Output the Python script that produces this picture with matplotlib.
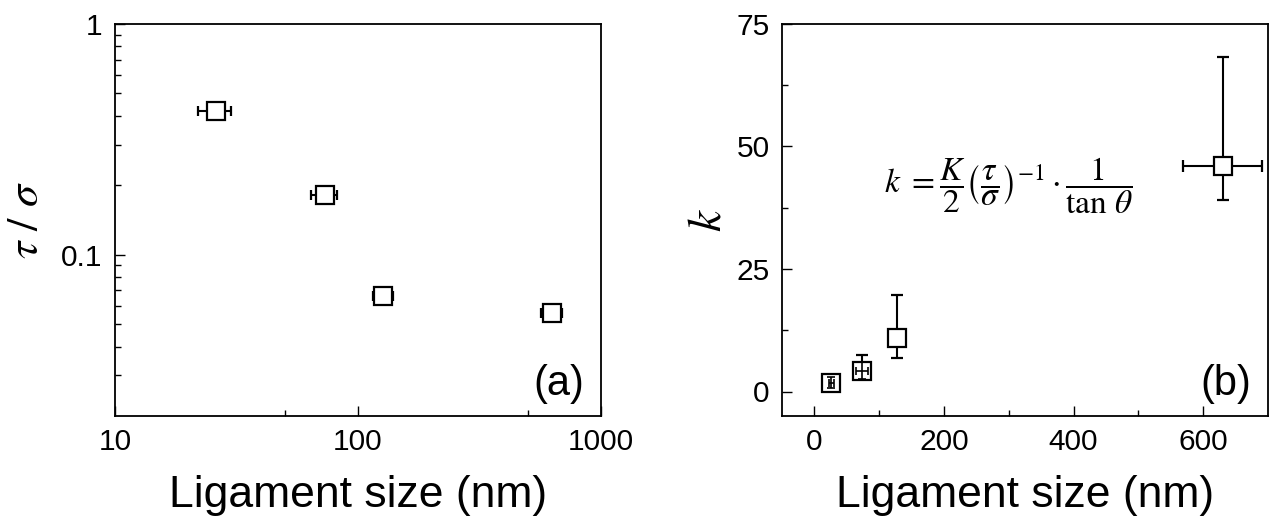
import numpy as np
import matplotlib.pyplot as plt
from matplotlib.ticker import FixedLocator, NullFormatter

plt.rcParams['font.family'] = ['Liberation Sans', 'DejaVu Sans']
plt.rcParams['mathtext.fontset'] = 'stix'

# data
size_nm = [26, 73, 127, 630]
size_err = [4, 9, 12, 61]
tau_sigma = [0.42, 0.182, 0.066, 0.056]
k_val = [1.7, 4.2, 11.0, 46.1]
k_err_lo = [1.0, 1.7, 4.2, 7.1]
k_err_hi = [1.2, 3.2, 8.6, 22.1]

fig = plt.figure(figsize=(12.69, 5.22), dpi=100)
ax1 = fig.add_axes([115 / 1269, 106 / 522, 486 / 1269, 392 / 522])
ax2 = fig.add_axes([782 / 1269, 106 / 522, 486 / 1269, 392 / 522])

box = dict(fmt='s', ms=13, mfc='white', mec='black', mew=1.6,
           ecolor='black', elinewidth=1.5, capthick=1.5, color='black')

# (a) tau/sigma vs size, log-log
ax1.errorbar(size_nm, tau_sigma, xerr=size_err, capsize=3.5, **box)
ax1.set_xscale('log')
ax1.set_yscale('log')
ax1.set_xlim(10, 1000)
ax1.set_ylim(0.02, 1)
ax1.xaxis.set_major_locator(FixedLocator([10, 100, 1000]))
ax1.xaxis.set_minor_locator(FixedLocator([50, 500]))
ax1.set_xticklabels(['10', '100', '1000'])
ax1.xaxis.set_minor_formatter(NullFormatter())
ax1.yaxis.set_major_locator(FixedLocator([0.1, 1]))
ax1.yaxis.set_minor_locator(FixedLocator(
    [0.03, 0.04, 0.05, 0.06, 0.07, 0.08, 0.09,
     0.2, 0.3, 0.4, 0.5, 0.6, 0.7, 0.8, 0.9]))
ax1.set_yticklabels(['0.1', '1'])
ax1.yaxis.set_minor_formatter(NullFormatter())
ax1.set_ylabel(r'$\tau\ /\ \sigma$', fontsize=32, labelpad=10)
ax1.text(0.965, 0.03, '(a)', transform=ax1.transAxes, fontsize=30,
         ha='right', va='bottom')

# (b) k vs size
ax2.errorbar(size_nm, k_val, xerr=size_err, yerr=[k_err_lo, k_err_hi],
             capsize=4.5, **box)
# the two small points show their bars through the open box
ax2.errorbar(size_nm[:2], k_val[:2], xerr=size_err[:2],
             yerr=[k_err_lo[:2], k_err_hi[:2]], fmt='none', ecolor='black',
             elinewidth=1.2, capsize=3, capthick=1.2, zorder=5)
ax2.set_xlim(-50, 700)
ax2.set_ylim(-5, 75)
ax2.set_xticks([0, 200, 400, 600])
ax2.set_xticks([100, 300, 500], minor=True)
ax2.set_yticks([0, 25, 50, 75])
ax2.set_yticks([12.5, 37.5, 62.5], minor=True)
ax2.set_ylabel(r'$k$', fontsize=34, labelpad=4)
ax2.text(0.965, 0.03, '(b)', transform=ax2.transAxes, fontsize=30,
         ha='right', va='bottom')
ax2.text(300, 42.0,
         r'$k\ =\dfrac{K}{2}\left(\dfrac{\tau}{\sigma}\right)^{-1}\cdot\dfrac{1}{\tan\,\theta}$',
         fontsize=24, ha='center', va='center')

for ax in (ax1, ax2):
    ax.set_xlabel('Ligament size (nm)', fontsize=32, labelpad=13)
    ax.tick_params(which='both', direction='in', top=False, right=False,
                   labelsize=21.5, width=1.0, pad=9)
    ax.tick_params(which='major', length=7)
    ax.tick_params(which='minor', length=4)
    for s in ax.spines.values():
        s.set_linewidth(1.3)

plt.savefig('out.png', dpi=100)
